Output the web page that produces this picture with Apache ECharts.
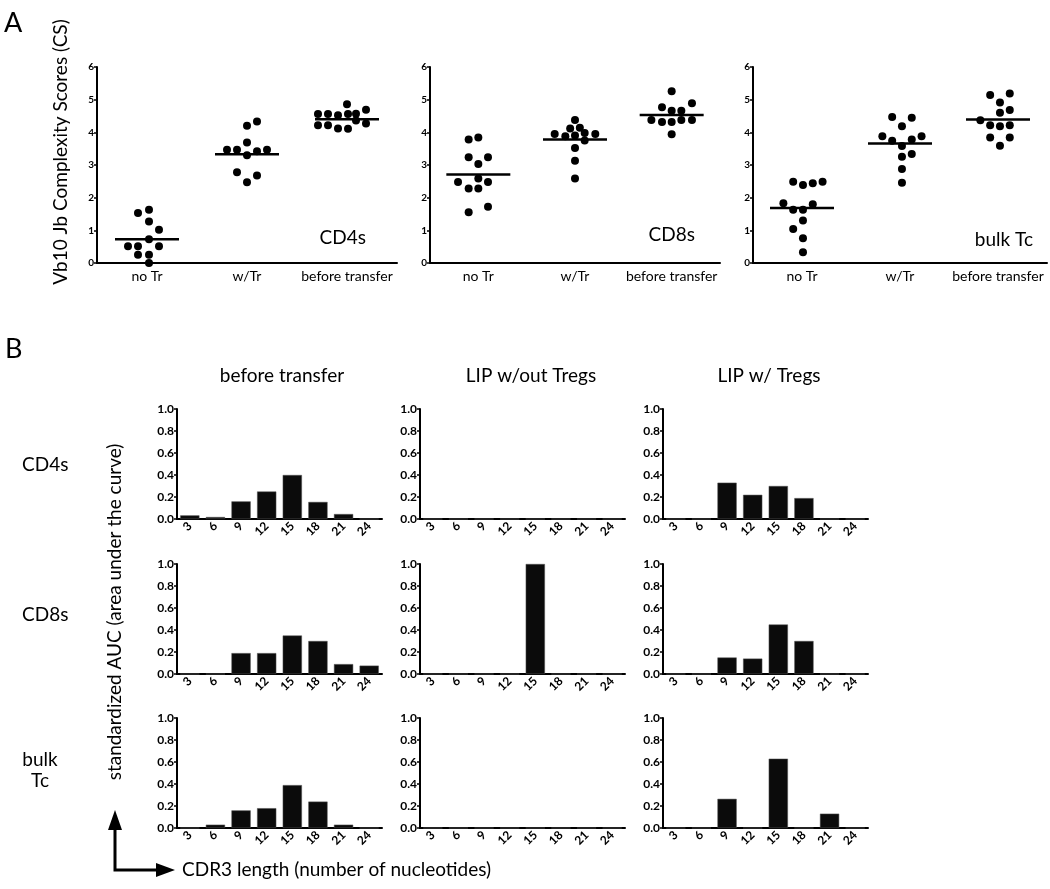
<!DOCTYPE html>
<html>
<head>
<meta charset="utf-8">
<script src="https://cdn.jsdelivr.net/npm/echarts@6/dist/echarts.min.js"></script>
<style>html,body{margin:0;padding:0;background:#fff}#c{width:1050px;height:889px}</style>
</head>
<body>
<div id="c"></div>
<script>
// ---------- Panel A data ----------
const scatterCategories = ['no Tr', 'w/Tr', 'before transfer'];
const panelNamesA = ['CD4s', 'CD8s', 'bulk Tc'];
// points: [horizontal jitter (category units), score]
const cd4_noTr = [[-0.09,1.53],[0.02,1.63],[0.02,1.27],[0.12,1.02],[-0.19,0.51],[-0.09,0.51],[0.02,0.73],[0.12,0.51],[-0.09,0.25],[0.02,0.25],[0.02,0.0]];
const cd4_wTr = [[0.0,4.2],[0.1,4.33],[0.0,3.69],[-0.2,3.47],[-0.1,3.47],[0.1,3.42],[0.2,3.47],[0.0,3.3],[-0.1,2.78],[0.1,2.68],[0.0,2.47]];
const cd4_before = [[0.0,4.86],[-0.29,4.56],[-0.19,4.56],[-0.09,4.52],[0.01,4.56],[0.09,4.57],[0.19,4.69],[-0.29,4.22],[-0.19,4.22],[-0.09,4.12],[0.01,4.11],[0.09,4.36],[0.19,4.27]];
const cd4_medians = [0.73, 3.33, 4.4];

const cd8_noTr = [[-0.1,3.78],[0,3.84],[-0.1,3.24],[0.1,3.24],[0,3.03],[-0.21,2.48],[0,2.59],[0.1,2.48],[-0.1,2.28],[0,2.28],[-0.1,1.55],[0.1,1.72]];
const cd8_wTr = [[0,4.38],[-0.05,4.12],[0.05,4.14],[-0.21,3.95],[-0.1,3.88],[0.1,3.98],[0.21,3.95],[0,3.9],[0.1,3.75],[0,3.52],[0,3.13],[0,2.59]];
const cd8_before = [[0,5.26],[-0.1,4.77],[0.21,4.89],[0,4.66],[0.1,4.66],[-0.21,4.38],[-0.1,4.32],[0,4.32],[0.1,4.38],[0.21,4.38],[0,3.94]];
const cd8_medians = [2.71, 3.78, 4.53];

const bulk_noTr = [[-0.09,2.49],[0.01,2.39],[0.11,2.44],[0.21,2.49],[-0.19,1.83],[-0.09,1.63],[0.01,1.63],[0.11,1.8],[0.01,1.3],[-0.09,1.04],[0.01,0.76],[0.01,0.33]];
const bulk_wTr = [[-0.08,4.47],[0.12,4.45],[0.02,4.19],[-0.18,3.88],[0.22,3.88],[-0.08,3.74],[0.12,3.78],[0.02,3.58],[0.12,3.34],[0.02,3.25],[0.02,2.88],[0.02,2.46]];
const bulk_before = [[-0.08,5.14],[0.12,5.19],[0.02,4.91],[0.12,4.68],[0.02,4.6],[-0.18,4.37],[-0.08,4.22],[0.02,4.19],[0.12,4.22],[-0.08,3.84],[0.12,3.84],[0.02,3.59]];
const bulk_medians = [1.68, 3.66, 4.39];

// ---------- Panel B data ----------
const cdr3Lengths = ['3','6','9','12','15','18','21','24'];
const columnTitlesB = ['before transfer', 'LIP w/out Tregs', 'LIP w/ Tregs'];
const rowNamesB = ['CD4s', 'CD8s', 'bulk\nTc'];
const cd4_beforeBars   = [0.033,0.018,0.16,0.25,0.40,0.155,0.045,0];
const cd4_lipNoTregs   = [0,0,0,0,0,0,0,0];
const cd4_lipTregs     = [0,0,0.33,0.22,0.30,0.19,0,0];
const cd8_beforeBars   = [0,0,0.19,0.19,0.35,0.30,0.09,0.076];
const cd8_lipNoTregs   = [0,0,0,0,1.0,0,0,0];
const cd8_lipTregs     = [0,0,0.15,0.14,0.45,0.30,0,0];
const bulk_beforeBars  = [0,0.03,0.16,0.18,0.39,0.24,0.03,0];
const bulk_lipNoTregs  = [0,0,0,0,0,0,0,0];
const bulk_lipTregs    = [0,0,0.265,0,0.63,0,0.13,0];

// ---------- build ----------
const FONT = 'Lato, "Open Sans", sans-serif';
const scatterGroups = [
  {groups:[cd4_noTr, cd4_wTr, cd4_before], medians: cd4_medians},
  {groups:[cd8_noTr, cd8_wTr, cd8_before], medians: cd8_medians},
  {groups:[bulk_noTr, bulk_wTr, bulk_before], medians: bulk_medians}
];
const scatterGrids = [
  {left:97, top:67, width:300, height:196},
  {left:430, top:67, width:290, height:196},
  {left:753, top:67, width:294, height:196}
];
const barRows = [
  [cd4_beforeBars, cd4_lipNoTregs, cd4_lipTregs],
  [cd8_beforeBars, cd8_lipNoTregs, cd8_lipTregs],
  [bulk_beforeBars, bulk_lipNoTregs, bulk_lipTregs]
];
const barColLeft = [177, 420, 663];
const barRowTop = [409, 564, 718];

const grid = [], xAxis = [], yAxis = [], series = [];
const axisLineStyle = {color:'#000', width:2};

scatterGrids.forEach((g, i) => {
  grid.push(g);
  xAxis.push({
    type:'category', gridIndex:i, data:scatterCategories,
    axisLine:{onZero:false, lineStyle:axisLineStyle},
    axisTick:{alignWithLabel:true, length:4, lineStyle:{color:'#000', width:1.5}},
    axisLabel:{color:'#000', fontSize:14, fontFamily:FONT, margin:6, interval:0}
  });
  xAxis.push({type:'value', gridIndex:i, min:-0.5, max:2.5, show:false});
  yAxis.push({
    type:'value', gridIndex:i, min:0, max:6, interval:1,
    axisLine:{show:true, onZero:false, lineStyle:axisLineStyle},
    axisTick:{show:true, length:3, lineStyle:{color:'#000', width:1.5}},
    axisLabel:{color:'#000', fontSize:10, fontWeight:'bold', fontFamily:FONT, margin:3},
    splitLine:{show:false}
  });
  const pts = [];
  scatterGroups[i].groups.forEach((grp, k) => grp.forEach(p => pts.push([k + p[0], p[1]])));
  series.push({type:'scatter', xAxisIndex:2*i+1, yAxisIndex:i, data:pts, symbolSize:8,
    itemStyle:{color:'#000', opacity:1}, silent:true});
  series.push({type:'scatter', xAxisIndex:2*i+1, yAxisIndex:i, symbol:'rect', symbolSize:[64,2.5],
    data:scatterGroups[i].medians.map((m,k)=>[k,m]), itemStyle:{color:'#000', opacity:1}, silent:true, z:3});
});

let gi = 3, xi = 6, yi = 3;
barRows.forEach((row, r) => {
  row.forEach((vals, c) => {
    grid.push({left:barColLeft[c], top:barRowTop[r], width:205, height:110});
    xAxis.push({
      type:'category', gridIndex:gi, data:cdr3Lengths,
      axisLine:{onZero:false, lineStyle:axisLineStyle},
      axisTick:{alignWithLabel:true, length:3, lineStyle:{color:'#000', width:1.5}},
      axisLabel:{color:'#000', fontSize:12, fontWeight:'bold', fontFamily:FONT, rotate:45, margin:5, interval:0}
    });
    yAxis.push({
      type:'value', gridIndex:gi, min:0, max:1, interval:0.2,
      axisLine:{show:true, onZero:false, lineStyle:axisLineStyle},
      axisTick:{show:true, length:3, lineStyle:{color:'#000', width:1.5}},
      axisLabel:{color:'#000', fontSize:12, fontWeight:'bold', fontFamily:FONT, margin:3, formatter:v=>v.toFixed(1)},
      splitLine:{show:false}
    });
    series.push({type:'bar', xAxisIndex:xi, yAxisIndex:yi, data:vals, barCategoryGap:'25%',
      itemStyle:{color:'#0b0b0b', borderColor:'#555', borderWidth:0.5}, silent:true});
    gi++; xi++; yi++;
  });
});

function txt(text, x, y, size, align, rotation, extra) {
  return Object.assign({
    type:'text', x:x, y:y, rotation:rotation||0, silent:true,
    style:{text:text, x:0, y:0, fill:'#000', font: size + 'px ' + FONT,
      align:align||'left', verticalAlign:'middle', textAlign:align||'left', textVerticalAlign:'middle'}
  }, extra||{});
}

const graphic = [
  txt('A', 4, 23, 27, 'left'),
  txt('B', 5, 349, 27, 'left'),
  txt('Vb10 Jb Complexity Scores (CS)', 61, 152, 19, 'center', Math.PI/2),
  txt(panelNamesA[0], 366, 238, 19, 'right'),
  txt(panelNamesA[1], 695, 235, 19, 'right'),
  txt(panelNamesA[2], 1033, 240, 19, 'right'),
  txt(columnTitlesB[0], 282, 376, 19, 'center'),
  txt(columnTitlesB[1], 531, 376, 19, 'center'),
  txt(columnTitlesB[2], 769, 376, 19, 'center'),
  txt(rowNamesB[0], 22, 465, 19, 'left'),
  txt(rowNamesB[1], 22, 615, 19, 'left'),
  {type:'text', x:40, y:770, silent:true, style:{text:rowNamesB[2], x:0, y:0, fill:'#000',
    font:'19px ' + FONT, align:'center', verticalAlign:'middle', textAlign:'center', textVerticalAlign:'middle', lineHeight:21}},
  txt('standardized AUC (area under the curve)', 115, 612, 19, 'center', Math.PI/2),
  txt('CDR3 length (number of nucleotides)', 182, 870, 19, 'left'),
  {type:'polyline', silent:true, shape:{points:[[115,828],[115,870],[158,870]]}, style:{stroke:'#000', lineWidth:3, fill:null}},
  {type:'polygon', silent:true, shape:{points:[[115,810],[108,830],[122,830]]}, style:{fill:'#000'}},
  {type:'polygon', silent:true, shape:{points:[[175,870],[156,863],[156,877]]}, style:{fill:'#000'}}
];

const chart = echarts.init(document.getElementById('c'), null, {renderer:'canvas'});
chart.setOption({
  animation:false,
  backgroundColor:'#fff',
  textStyle:{fontFamily:FONT},
  grid:grid, xAxis:xAxis, yAxis:yAxis, series:series, graphic:graphic
});
</script>
</body>
</html>
